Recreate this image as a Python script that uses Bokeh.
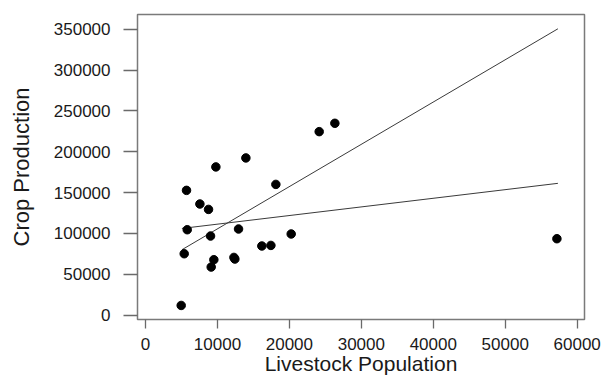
from bokeh.plotting import figure
from bokeh.models import Range1d, FixedTicker, BasicTickFormatter
from bokeh.embed import file_html
from bokeh.resources import INLINE

# Data
livestock = [4960, 5380, 5800, 5700, 7560, 8760, 9040, 9130, 9500, 9780,
             12290, 12420, 12930, 13950, 16170, 17430, 18120, 20250, 24140,
             26320, 57180]
crop = [11800, 75100, 104500, 152700, 136000, 129400, 96800, 58800, 67800,
        181400, 70600, 68600, 105400, 192400, 84600, 85300, 160000, 99300,
        224600, 234800, 93500]

# Fitted lines (endpoints)
fit_x = [5060, 57320]
fit_steep_y = [80000, 350500]
fit_flat_y = [106100, 161300]

x_ticks = [0, 10000, 20000, 30000, 40000, 50000, 60000]
y_ticks = [0, 50000, 100000, 150000, 200000, 250000, 300000, 350000]

FONT = "Liberation Sans"

p = figure(width=602, height=379, output_backend="svg", toolbar_location=None,
           x_range=Range1d(-1112, 61015), y_range=Range1d(-5400, 368000),
           min_border_left=137, min_border_right=18, min_border_top=14,
           min_border_bottom=60)
p.background_fill_color = "white"
p.border_fill_color = "white"
p.outline_line_color = "#7a7a7a"
p.outline_line_width = 1.5
p.xgrid.visible = False
p.ygrid.visible = False

p.line(fit_x, fit_steep_y, line_color="#3a3a3a", line_width=1)
p.line(fit_x, fit_flat_y, line_color="#3a3a3a", line_width=1)
p.scatter(livestock, crop, size=8.5, fill_color="black", line_color="black")

for ax, ticks in ((p.xaxis[0], x_ticks), (p.yaxis[0], y_ticks)):
    ax.ticker = FixedTicker(ticks=ticks)
    ax.formatter = BasicTickFormatter(use_scientific=False)
    ax.axis_line_color = None
    ax.major_tick_line_color = "#6a6a6a"
    ax.major_tick_line_width = 1.3
    ax.major_tick_in = 0
    ax.minor_tick_line_color = None
    ax.major_label_text_font = FONT
    ax.major_label_text_font_size = "17px"
    ax.major_label_text_color = "#1a1a1a"
    ax.axis_label_text_font = FONT
    ax.axis_label_text_font_style = "normal"
    ax.axis_label_text_color = "#1a1a1a"

p.yaxis.major_tick_out = 14
p.yaxis.major_label_standoff = 13
p.yaxis.axis_label = "Crop Production"
p.yaxis.axis_label_text_font_size = "22px"
p.yaxis.axis_label_standoff = 17

p.xaxis.major_tick_out = 9
p.xaxis.major_label_standoff = 9
p.xaxis.axis_label = "Livestock Population"
p.xaxis.axis_label_text_font_size = "21px"
p.xaxis.axis_label_standoff = -1

open("out.html", "w").write(file_html(p, INLINE))
